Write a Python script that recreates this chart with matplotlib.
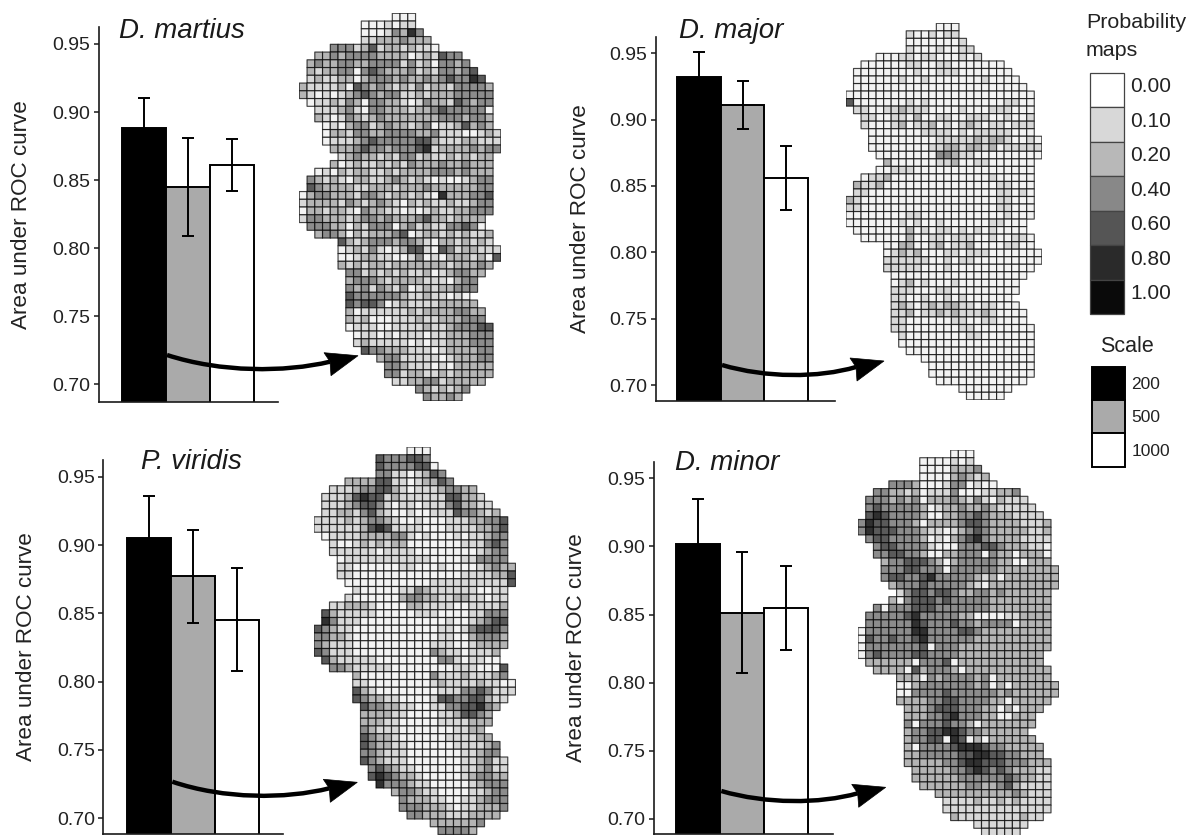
import numpy as np
import matplotlib
matplotlib.use("Agg")
import matplotlib.pyplot as plt
from matplotlib.colors import ListedColormap
from matplotlib.patches import Rectangle, PathPatch, Polygon
from matplotlib.path import Path

plt.rcParams['font.family'] = ['Liberation Sans', 'DejaVu Sans']

W, H = 1191, 835

scales = ['200', '500', '1000']
bar_colors = ['#000000', '#aaaaaa', '#ffffff']
prob_labels = ['0.00', '0.10', '0.20', '0.40', '0.60', '0.80', '1.00']
prob_colors = ['#ffffff', '#d8d8d8', '#b8b8b8', '#888888', '#555555', '#2a2a2a', '#0a0a0a']
cell_colors = ['#f3f3f3', '#d8d8d8', '#b4b4b4', '#8c8c8c', '#5a5a5a', '#303030', '#0a0a0a']
tick_values = [0.70, 0.75, 0.80, 0.85, 0.90, 0.95]

martius_auc = [0.888, 0.845, 0.861]
martius_low = [0.866, 0.809, 0.842]
martius_high = [0.910, 0.881, 0.880]
major_auc = [0.932, 0.911, 0.856]
major_low = [0.913, 0.893, 0.832]
major_high = [0.951, 0.929, 0.880]
viridis_auc = [0.905, 0.877, 0.845]
viridis_low = [0.874, 0.843, 0.808]
viridis_high = [0.936, 0.911, 0.883]
minor_auc = [0.902, 0.851, 0.855]
minor_low = [0.869, 0.807, 0.824]
minor_high = [0.935, 0.896, 0.886]

# first and last occupied column of each grid row (shared study area)
row_first = [12,8,8,8,4,2,1,1,1,0,0,1,2,2,3,3,3,4,5,4,2,1,1,0,0,0,0,1,2,5,5,5,5,6,6,6,6,6,6,6,6,7,7,8,10,11,11,12,15,16]
row_last = [14,14,15,16,17,20,21,22,23,24,24,24,24,24,24,25,25,25,24,24,24,24,24,24,24,24,23,23,24,24,25,25,24,23,22,22,21,22,23,23,24,24,24,24,24,24,24,23,21,20]

# probability class of each occupied cell, row by row (index into cell_colors)
martius_map = [
"000","0001011","00013253","112223222","33312412212110","2232333322220121433",
"232233223333131203323","2122330343222312133234","12112202333232232343354",
"2111120432321213122133332","2101012343233112122233333","011213203322101322143233",
"11123103322212234333330","21013212322222223332332","0102331232212301124232",
"02213322333322311100121","01112343333344211122111","2223433233345122223233",
"12322121331211212122","201211212132223223222","01021221121222233323222",
"321210221123212101001233","432222112221222322222233","0233222133212212105222334",
"1222213212321021211211233","0221221032211010121122333","133222123323222342212222",
"33322021333023121133430","23320212223401221212112","42123332332102212121",
"012131012441043122111","001221100130102221204","21212212222222122232",
"331212121120123322","23332122221110233","32313213012122333","4333333211211010",
"43443012111122222","201111112122223322","212000111211222333","0111001111211233344",
"011010111011222333","121111101011222333","43322211101222233","233111110122233",
"33211101022222","33122112122222","112233122222","3212123","32232",
]
major_map = [
"000","1001011","00000001","100010011","00011011000101","0000001100110000000",
"000000001001110000000","0000001001000000010000","00000000000000000000000",
"0000000000000000000000000","4000000010100000000001100","110011211100001000111000",
"11001102001100111001001","10001201120101210110111","0000000111101011111000",
"00000000011111212210010","00000000112212212011111","0000000033211000000000",
"20000001120011000000","001110000000000000000","01120000000000000100000",
"211200000000000000011000","110000000000000000011010","2100000000000000000011000",
"1100000000000000000011000","0000000011000000000001000","000000010100100000011000",
"00000002010110101010000","00000020011011100100110","00220012011200001100",
"012120001101110000000","111111001011000000000","11111000100000000000",
"000000000000000000","01201000100000000","11100011000000000","1100100101000000",
"12101212211011000","112011212111210000","110000001100110000","1100000001100000000",
"100000000110000000","000000000000000000","00000000000000000","000000000000000",
"00000000000000","00000000000000","000000000000","0000000","00000",
]
viridis_map = [
"000","4333443","43333440","331101243","22224411012243","1112334421011123322",
"111245441211111144221","1112344310110111342211","11221342100100111433212",
"1111212332100100011122334","1111112454111100011112234","011112222331010001011233",
"10012121220000000111343","11111101111000000001233","0111111111110000113333",
"11000000110001000012322","11000000000000001111224","0000000000011111111114",
"10000011321111110011","100000023322112211011","11222100002211110011112",
"421111100000111000011333","531110000000000010012344","4321100000000000110134443",
"3322100000000000110023332","3211100000000001110012222","431110000000000321101112",
"42111110000000033101100","33211111000000001110004","20000000003111211123",
"110000000012111121100","421000000001113343111","43221100001443344211",
"433221100113344532","22221100001124432","22211000001111222","3211100000001122",
"43221000000111122","432211000000111123","332111000000011233","4321110000000112311",
"343211000000112311","454322100000123322","53332110000012333","233211000011233",
"32221100112333","33322210112223","332221112222","2222223","33332",
]
minor_map = [
"000","0000101","00002223","000023212","33320001330100","3322120111300011223",
"333232302223213102111","3433333201223223211111","45433332002233432221111",
"3544333202222344322221112","3544433321101234322222112","344333320102345322221111",
"34433331000333443222110","33443320022333032202220","2334443202333332200222",
"33344333033333322222222","34433453333321202222222","2333433333210222222222",
"13443443223323222222","203444343333322222222","30333444333333322222222",
"333334533333220000112222","333333543334332333302222","0333333553333443222222222",
"0433433453333332222222222","0333333340333222222222222","034333344333322222222222",
"22222203334022222222222","22220423332022222222222","22203233332302222222",
"002333333323020222222","003333433333323222222","22223344333322022222",
"222344433322020222","22233453332200222","30333433202222222","2334455433222222",
"23344054020222222","203333455543322222","223333344554433222","2222233455444333222",
"222223345434322211","222222333333432211","22222233223421111","222222222232111",
"11112112121111","11111111111111","211111111211","1111111","11111",
]

fig = plt.figure(figsize=(W / 100, H / 100), dpi=100, facecolor='white')


def px_axes(x0, y_top, x1, y_bottom):
    return fig.add_axes([x0 / W, 1 - y_bottom / H, (x1 - x0) / W, (y_bottom - y_top) / H])


def bar_panel(auc, low, high, spine_x, right, top, bottom, y95, y70, bar_left, bar_right):
    ax = px_axes(spine_x, top, right, bottom)
    per_unit = (y70 - y95) / 0.25
    ax.set_ylim(0.70 - (bottom - y70) / per_unit, 0.95 + (y95 - top) / per_unit)
    unit = (bar_right - bar_left) / 3
    ax.set_xlim((spine_x - bar_left) / unit - 0.5, (right - bar_left) / unit - 0.5)
    x = np.arange(len(auc))
    ax.bar(x, auc, width=1, color=bar_colors, edgecolor='black', linewidth=1.4, zorder=2)
    yerr = [np.subtract(auc, low), np.subtract(high, auc)]
    ax.errorbar(x, auc, yerr=yerr, fmt='none', ecolor='black', elinewidth=1.4,
                capsize=4.4, capthick=1.4, zorder=3)
    for s in ('top', 'right'):
        ax.spines[s].set_visible(False)
    for s in ('left', 'bottom'):
        ax.spines[s].set_linewidth(1.2)
        ax.spines[s].set_color('#1a1a1a')
    ax.set_xticks([])
    ax.set_yticks(tick_values)
    ax.set_yticklabels([f'{v:.2f}' for v in tick_values])
    ax.tick_params(axis='y', length=3.6, width=1.1, pad=2.5, labelsize=14,
                   color='#1a1a1a', labelcolor='#222222')
    ax.patch.set_alpha(0)


def grid_map(rows, x0, y0, cell):
    ax = px_axes(x0, y0, x0 + 26 * cell, y0 + 50 * cell)
    grid = np.full((50, 26), np.nan)
    for r, s in enumerate(rows):
        n = row_last[r] - row_first[r] + 1
        grid[r, row_first[r]:row_first[r] + n] = [int(c) for c in s.ljust(n, s[-1])[:n]]
    cmap = ListedColormap(cell_colors)
    ax.pcolor(np.ma.masked_invalid(grid), cmap=cmap, vmin=-0.5, vmax=6.5,
              edgecolors=(0, 0, 0, 0.72), linewidth=0.85)
    ax.set_xlim(0, 26)
    ax.set_ylim(50, 0)
    ax.axis('off')


bar_panel(martius_auc, martius_low, martius_high, 98.7, 278, 26.7, 401.7, 44, 384.3, 122.3, 254)
bar_panel(major_auc, major_low, major_high, 656, 835, 37, 401, 53.3, 385, 676.7, 808.3)
bar_panel(viridis_auc, viridis_low, viridis_high, 103.3, 283, 460, 834, 476.7, 818.3, 127.3, 258.7)
bar_panel(minor_auc, minor_low, minor_high, 654, 833, 461.7, 834, 478.3, 819, 676, 807.7)

grid_map(martius_map, 299.3, 13.3, 7.75)
grid_map(major_map, 846, 23.3, 7.53)
grid_map(viridis_map, 314, 447, 7.75)
grid_map(minor_map, 858, 450, 7.72)

# overlay in pixel coordinates for annotation text, arrows and the keys
ov = fig.add_axes([0, 0, 1, 1], zorder=10)
ov.set_xlim(0, W)
ov.set_ylim(H, 0)
ov.axis('off')

titles = [('D. martius', 119, 31), ('D. major', 679, 31), ('P. viridis', 141, 462), ('D. minor', 675, 463)]
for t, x, y in titles:
    ov.text(x, y, t, fontsize=19.9, style='italic', ha='left', va='center', color='#1a1a1a')

ylabels = [(22, 215), (580, 219), (27, 647), (577, 648)]
for x, y in ylabels:
    ov.text(x, y, 'Area under ROC curve', fontsize=16.2, rotation=90, ha='center', va='center', color='#222222')

arrows = [((167, 355), (358, 355.7), 17.5), ((722, 365), (884, 361), 13),
          ((172.3, 781.7), (357.3, 782.3), 17.5), ((721.3, 791), (885.7, 787.3), 13)]
for (sx, sy), (tx, ty), sag in arrows:
    nx, ny = tx - 28, ty + 6
    verts = [(sx, sy), (sx + (nx - sx) * 0.33, sy + sag), (sx + (nx - sx) * 0.72, sy + sag), (nx, ny)]
    codes = [Path.MOVETO, Path.CURVE4, Path.CURVE4, Path.CURVE4]
    ov.add_patch(PathPatch(Path(verts, codes), fc='none', ec='black', lw=3.2, capstyle='butt'))
    ov.add_patch(Polygon([(tx, ty), (tx - 34, ty - 3), (tx - 28, ty + 6), (tx - 27, ty + 20)],
                         closed=True, fc='black', ec='black', lw=0.5))

ov.text(1086, 23, 'Probability', fontsize=15.4, ha='left', va='center', color='#222222')
ov.text(1086, 51, 'maps', fontsize=15.4, ha='left', va='center', color='#222222')
for i, (lab, col) in enumerate(zip(prob_labels, prob_colors)):
    y = 72.7 + i * 34.5
    ov.add_patch(Rectangle((1090, y), 34, 34.5, fc=col, ec='#444444', lw=0.9))
    ov.text(1130, y + 14, lab, fontsize=15, ha='left', va='center', color='#222222')

ov.text(1100, 347, 'Scale', fontsize=15.5, ha='left', va='center', color='#222222')
for i, (lab, col) in enumerate(zip(scales, bar_colors)):
    y = 366.7 + i * 33.3
    ov.add_patch(Rectangle((1091.5, y), 33, 33.3, fc=col, ec='black', lw=1.4))
    ov.text(1131.5, y + 18, lab, fontsize=12.5, ha='left', va='center', color='#222222')

fig.savefig('out.png', dpi=100)
